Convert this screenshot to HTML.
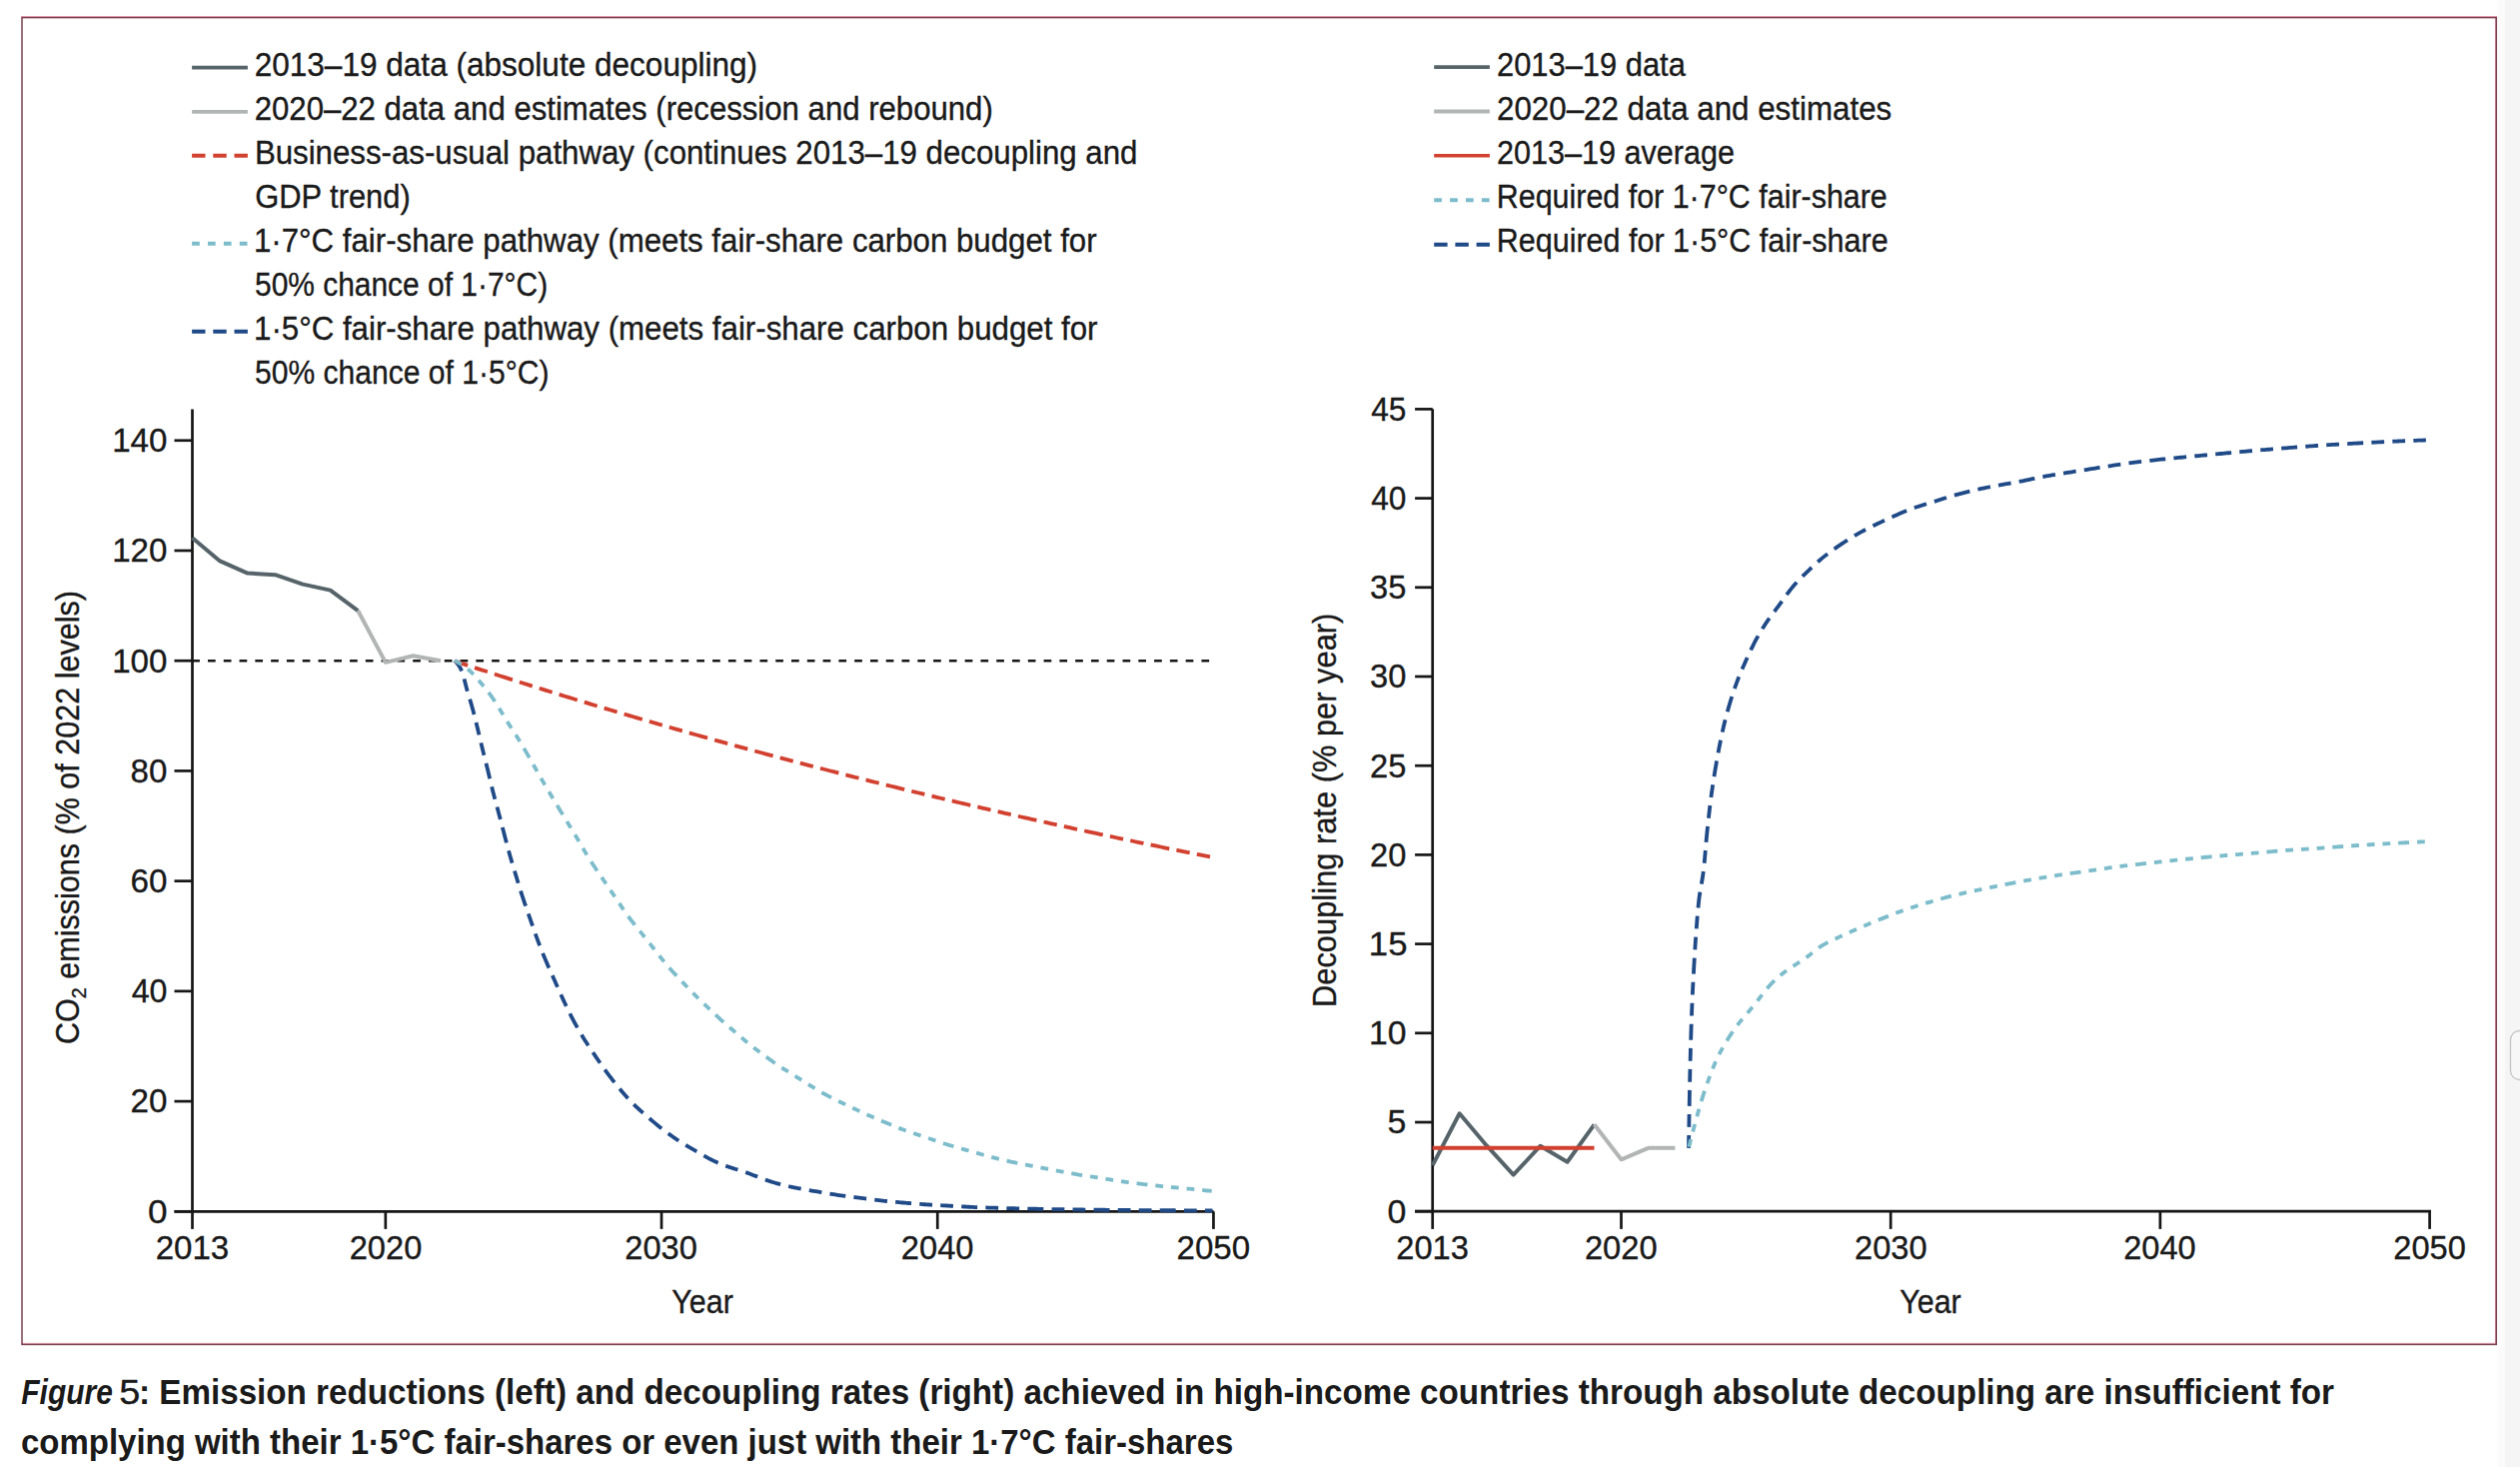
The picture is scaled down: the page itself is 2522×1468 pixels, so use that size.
<!DOCTYPE html><html><head><meta charset="utf-8"><style>html,body{margin:0;padding:0;background:#fff;width:2522px;height:1468px;overflow:hidden}svg{display:block}text{font-family:"Liberation Sans", sans-serif;fill:#1a1a1a}text.r{stroke:#1a1a1a;stroke-width:0.35px}</style></head><body>
<svg width="2522" height="1468" viewBox="0 0 2522 1468">
<rect x="2507" y="0" width="15" height="1468" fill="#f5f5f5"/>
<rect x="2500" y="0" width="7" height="1468" fill="#fbfbfb"/>
<rect x="2512.5" y="1031.5" width="20" height="49" rx="9" fill="#f7f7f7" stroke="#c4c4c4" stroke-width="1.3"/>
<path d="M21 16.5 H2499 M21 1344.3 H2499" stroke="#f2a6ba" stroke-width="1.1" fill="none"/>
<path d="M2497.4 17 V1345" stroke="#e7a3b3" stroke-width="1" fill="none"/>
<rect x="22" y="17.6" width="2476.3" height="1327.8" fill="none" stroke="#7a4150" stroke-width="1.5"/>
<line x1="192.1" y1="67.6" x2="247.9" y2="67.6" stroke="#56646a" stroke-width="3.8"/>
<line x1="192.1" y1="111.8" x2="247.9" y2="111.8" stroke="#b3b5b5" stroke-width="3.8"/>
<line x1="192.1" y1="155.7" x2="247.9" y2="155.7" stroke="#d2402f" stroke-width="3.9" stroke-dasharray="13.4 7.8"/>
<line x1="192.1" y1="243.7" x2="247.9" y2="243.7" stroke="#7dbccb" stroke-width="3.9" stroke-dasharray="7.7 8.2"/>
<line x1="192.1" y1="331.7" x2="247.9" y2="331.7" stroke="#1f4a87" stroke-width="3.9" stroke-dasharray="13.4 7.8"/>
<line x1="1435.2" y1="67.1" x2="1490.9" y2="67.1" stroke="#56646a" stroke-width="3.8"/>
<line x1="1435.2" y1="111.5" x2="1490.9" y2="111.5" stroke="#b3b5b5" stroke-width="3.8"/>
<line x1="1435.2" y1="155.8" x2="1490.9" y2="155.8" stroke="#d2402f" stroke-width="3.6"/>
<line x1="1435.2" y1="200.2" x2="1490.9" y2="200.2" stroke="#7dbccb" stroke-width="3.9" stroke-dasharray="7.7 8.2"/>
<line x1="1435.2" y1="244.7" x2="1490.9" y2="244.7" stroke="#1f4a87" stroke-width="3.9" stroke-dasharray="13.4 7.8"/>
<path d="M192.5 409.4 V1213.6 M174.5 1212.3 H1214.6" stroke="#161616" stroke-width="2.7" fill="none"/>
<line x1="174.5" y1="1212.3" x2="192.5" y2="1212.3" stroke="#161616" stroke-width="2.7"/>
<line x1="174.5" y1="1102.08" x2="192.5" y2="1102.08" stroke="#161616" stroke-width="2.7"/>
<line x1="174.5" y1="991.86" x2="192.5" y2="991.86" stroke="#161616" stroke-width="2.7"/>
<line x1="174.5" y1="881.64" x2="192.5" y2="881.64" stroke="#161616" stroke-width="2.7"/>
<line x1="174.5" y1="771.42" x2="192.5" y2="771.42" stroke="#161616" stroke-width="2.7"/>
<line x1="174.5" y1="661.2" x2="192.5" y2="661.2" stroke="#161616" stroke-width="2.7"/>
<line x1="174.5" y1="550.98" x2="192.5" y2="550.98" stroke="#161616" stroke-width="2.7"/>
<line x1="174.5" y1="440.76" x2="192.5" y2="440.76" stroke="#161616" stroke-width="2.7"/>
<line x1="192.5" y1="1212.3" x2="192.5" y2="1229.9" stroke="#161616" stroke-width="2.7"/>
<line x1="385.84" y1="1212.3" x2="385.84" y2="1229.9" stroke="#161616" stroke-width="2.7"/>
<line x1="662.04" y1="1212.3" x2="662.04" y2="1229.9" stroke="#161616" stroke-width="2.7"/>
<line x1="938.24" y1="1212.3" x2="938.24" y2="1229.9" stroke="#161616" stroke-width="2.7"/>
<line x1="1214.44" y1="1212.3" x2="1214.44" y2="1229.9" stroke="#161616" stroke-width="2.7"/>
<path d="M1433.7 409.2 V1213.6 M1416.1 1212.2 H2433" stroke="#161616" stroke-width="2.7" fill="none"/>
<line x1="1416.1" y1="1212.2" x2="1433.7" y2="1212.2" stroke="#161616" stroke-width="2.7"/>
<line x1="1416.1" y1="1123" x2="1433.7" y2="1123" stroke="#161616" stroke-width="2.7"/>
<line x1="1416.1" y1="1033.8" x2="1433.7" y2="1033.8" stroke="#161616" stroke-width="2.7"/>
<line x1="1416.1" y1="944.6" x2="1433.7" y2="944.6" stroke="#161616" stroke-width="2.7"/>
<line x1="1416.1" y1="855.4" x2="1433.7" y2="855.4" stroke="#161616" stroke-width="2.7"/>
<line x1="1416.1" y1="766.2" x2="1433.7" y2="766.2" stroke="#161616" stroke-width="2.7"/>
<line x1="1416.1" y1="677" x2="1433.7" y2="677" stroke="#161616" stroke-width="2.7"/>
<line x1="1416.1" y1="587.8" x2="1433.7" y2="587.8" stroke="#161616" stroke-width="2.7"/>
<line x1="1416.1" y1="498.6" x2="1433.7" y2="498.6" stroke="#161616" stroke-width="2.7"/>
<line x1="1416.1" y1="409.4" x2="1433.7" y2="409.4" stroke="#161616" stroke-width="2.7"/>
<line x1="1433.7" y1="1212.2" x2="1433.7" y2="1229.9" stroke="#161616" stroke-width="2.7"/>
<line x1="1622.49" y1="1212.2" x2="1622.49" y2="1229.9" stroke="#161616" stroke-width="2.7"/>
<line x1="1892.19" y1="1212.2" x2="1892.19" y2="1229.9" stroke="#161616" stroke-width="2.7"/>
<line x1="2161.89" y1="1212.2" x2="2161.89" y2="1229.9" stroke="#161616" stroke-width="2.7"/>
<line x1="2431.59" y1="1212.2" x2="2431.59" y2="1229.9" stroke="#161616" stroke-width="2.7"/>
<line x1="192.5" y1="661.2" x2="1211" y2="661.2" stroke="#161616" stroke-width="2.5" stroke-dasharray="7.7 8.085" stroke-dashoffset="0.3"/>
<path d="M192.5 538.3 L220.12 561.45 L247.74 573.58 L275.36 575.23 L302.98 584.6 L330.6 590.66 L358.22 611.05" stroke="#56646a" stroke-width="4" fill="none" stroke-linejoin="round"/>
<path d="M358.22 611.05 L385.84 662.85 L413.46 656.24 L441.08 661.2" stroke="#b3b5b5" stroke-width="4" fill="none" stroke-linejoin="round"/>
<path d="M455 661 L456.29 662.41 L457.54 663.86 L458.71 665.38 L459.79 666.97 L460.76 668.65 L461.62 670.4 L462.38 672.21 L463.06 674.07 L463.65 675.96 L464.19 677.87 L464.69 679.8 L465.17 681.74 L465.65 683.68 L466.13 685.62 L466.63 687.55 L467.16 689.48 L467.7 691.41 L468.26 693.33 L468.83 695.24 L469.41 697.16 L470 699.07 L470.58 700.99 L471.15 702.9 L471.71 704.82 L472.27 706.75 L472.8 708.67 L473.33 710.6 L473.85 712.54 L474.35 714.47 L474.85 716.41 L475.34 718.35 L475.83 720.29 L476.31 722.23 L476.79 724.17 L477.27 726.12 L477.74 728.06 L478.2 730.01 L478.67 731.95 L479.13 733.9 L479.59 735.85 L480.05 737.79 L480.5 739.74 L480.96 741.69 L481.43 743.64 L481.9 745.58 L482.37 747.53 L482.85 749.47 L483.33 751.41 L483.82 753.35 L484.31 755.29 L484.8 757.23 L485.3 759.17 L485.79 761.11 L486.28 763.05 L486.77 764.99 L487.25 766.93 L487.73 768.87 L488.2 770.81 L488.67 772.76 L489.13 774.71 L489.59 776.65 L490.05 778.6 L490.51 780.55 L490.97 782.5 L491.43 784.44 L491.9 786.39 L492.38 788.33 L492.87 790.27 L493.36 792.21 L493.86 794.15 L494.37 796.08 L494.89 798.01 L495.41 799.95 L495.93 801.88 L496.46 803.81 L496.98 805.74 L497.5 807.67 L498.02 809.6 L498.54 811.53 L499.06 813.47 L499.57 815.4 L500.08 817.33 L500.6 819.27 L501.11 821.2 L501.61 823.14 L502.12 825.07 L502.63 827.01 L503.13 828.95 L503.64 830.88 L504.14 832.82 L504.64 834.76 L505.14 836.69 L505.64 838.63 L506.14 840.57 L506.65 842.5 L507.16 844.44 L507.67 846.37 L508.19 848.31 L508.71 850.24 L509.25 852.16 L509.79 854.09 L510.34 856.01 L510.89 857.94 L511.46 859.85 L512.02 861.77 L512.6 863.69 L513.17 865.61 L513.75 867.52 L514.33 869.44 L514.91 871.35 L515.49 873.27 L516.07 875.18 L516.64 877.1 L517.22 879.01 L517.8 880.93 L518.39 882.84 L518.97 884.76 L519.56 886.67 L520.15 888.58 L520.75 890.49 L521.35 892.4 L521.96 894.3 L522.57 896.21 L523.2 898.11 L523.83 900.01 L524.46 901.9 L525.1 903.8 L525.75 905.69 L526.4 907.58 L527.06 909.48 L527.71 911.36 L528.37 913.25 L529.03 915.14 L529.69 917.03 L530.35 918.92 L531.01 920.81 L531.66 922.7 L532.32 924.59 L532.98 926.48 L533.64 928.37 L534.3 930.26 L534.96 932.15 L535.63 934.03 L536.3 935.92 L536.99 937.8 L537.68 939.67 L538.37 941.55 L539.08 943.42 L539.79 945.29 L540.51 947.16 L541.24 949.02 L541.97 950.88 L542.72 952.74 L543.47 954.59 L544.22 956.45 L544.99 958.29 L545.76 960.14 L546.55 961.98 L547.34 963.82 L548.13 965.65 L548.94 967.49 L549.75 969.31 L550.56 971.14 L551.38 972.97 L552.2 974.79 L553.02 976.62 L553.83 978.45 L554.65 980.27 L555.46 982.1 L556.27 983.93 L557.08 985.76 L557.89 987.59 L558.71 989.42 L559.52 991.25 L560.34 993.07 L561.16 994.9 L561.99 996.72 L562.82 998.54 L563.66 1000.35 L564.5 1002.17 L565.36 1003.98 L566.21 1005.78 L567.08 1007.59 L567.95 1009.39 L568.83 1011.19 L569.71 1012.98 L570.61 1014.77 L571.51 1016.55 L572.43 1018.33 L573.35 1020.11 L574.28 1021.88 L575.23 1023.64 L576.18 1025.4 L577.14 1027.15 L578.12 1028.9 L579.11 1030.64 L580.1 1032.37 L581.12 1034.1 L582.14 1035.82 L583.19 1037.52 L584.24 1039.22 L585.31 1040.91 L586.39 1042.6 L587.48 1044.27 L588.58 1045.94 L589.69 1047.61 L590.8 1049.27 L591.91 1050.94 L593.03 1052.6 L594.14 1054.26 L595.26 1055.92 L596.38 1057.58 L597.5 1059.23 L598.63 1060.89 L599.76 1062.54 L600.89 1064.19 L602.04 1065.83 L603.19 1067.46 L604.35 1069.09 L605.52 1070.71 L606.7 1072.33 L607.89 1073.94 L609.09 1075.54 L610.3 1077.13 L611.51 1078.72 L612.74 1080.3 L613.97 1081.88 L615.22 1083.45 L616.47 1085.01 L617.73 1086.56 L618.99 1088.11 L620.27 1089.65 L621.55 1091.18 L622.85 1092.71 L624.15 1094.23 L625.47 1095.74 L626.79 1097.23 L628.13 1098.72 L629.49 1100.18 L630.86 1101.64 L632.25 1103.08 L633.66 1104.5 L635.09 1105.9 L636.53 1107.29 L637.98 1108.66 L639.45 1110.01 L640.93 1111.36 L642.42 1112.69 L643.92 1114.02 L645.42 1115.34 L646.93 1116.65 L648.45 1117.96 L649.97 1119.26 L651.49 1120.55 L653.02 1121.84 L654.56 1123.13 L656.1 1124.4 L657.65 1125.66 L659.21 1126.92 L660.78 1128.16 L662.35 1129.39 L663.93 1130.62 L665.53 1131.83 L667.13 1133.03 L668.73 1134.22 L670.35 1135.4 L671.98 1136.56 L673.61 1137.71 L675.26 1138.85 L676.91 1139.97 L678.58 1141.08 L680.26 1142.17 L681.94 1143.24 L683.64 1144.3 L685.35 1145.35 L687.06 1146.38 L688.78 1147.4 L690.51 1148.41 L692.24 1149.41 L693.97 1150.42 L695.7 1151.42 L697.44 1152.41 L699.17 1153.41 L700.9 1154.41 L702.63 1155.41 L704.37 1156.41 L706.11 1157.39 L707.86 1158.36 L709.62 1159.31 L711.39 1160.24 L713.17 1161.14 L714.97 1162.01 L716.79 1162.84 L718.62 1163.64 L720.47 1164.4 L722.32 1165.13 L724.19 1165.84 L726.07 1166.52 L727.96 1167.18 L729.86 1167.83 L731.75 1168.46 L733.66 1169.07 L735.56 1169.69 L737.47 1170.3 L739.37 1170.91 L741.27 1171.52 L743.18 1172.15 L745.07 1172.78 L746.97 1173.42 L748.85 1174.08 L750.74 1174.76 L752.61 1175.45 L754.49 1176.16 L756.35 1176.87 L758.22 1177.59 L760.09 1178.31 L761.95 1179.03 L763.83 1179.73 L765.7 1180.42 L767.59 1181.09 L769.48 1181.74 L771.38 1182.36 L773.29 1182.95 L775.2 1183.53 L777.13 1184.08 L779.05 1184.61 L780.99 1185.13 L782.92 1185.63 L784.86 1186.11 L786.81 1186.58 L788.76 1187.04 L790.71 1187.48 L792.66 1187.9 L794.62 1188.31 L796.58 1188.71 L798.54 1189.09 L800.51 1189.46 L802.48 1189.82 L804.45 1190.17 L806.42 1190.51 L808.39 1190.85 L810.36 1191.18 L812.34 1191.51 L814.31 1191.83 L816.28 1192.16 L818.26 1192.49 L820.23 1192.83 L822.2 1193.16 L824.18 1193.5 L826.15 1193.84 L828.12 1194.17 L830.09 1194.51 L832.07 1194.83 L834.04 1195.16 L836.02 1195.47 L837.99 1195.78 L839.97 1196.07 L841.95 1196.36 L843.93 1196.64 L845.92 1196.91 L847.9 1197.17 L849.88 1197.43 L851.87 1197.68 L853.85 1197.93 L855.84 1198.17 L857.83 1198.41 L859.81 1198.66 L861.8 1198.9 L863.78 1199.15 L865.77 1199.39 L867.75 1199.64 L869.74 1199.89 L871.72 1200.14 L873.71 1200.39 L875.7 1200.64 L877.68 1200.88 L879.67 1201.12 L881.65 1201.35 L883.64 1201.58 L885.63 1201.8 L887.62 1202.01 L889.61 1202.22 L891.6 1202.42 L893.59 1202.61 L895.58 1202.8 L897.58 1202.98 L899.57 1203.15 L901.56 1203.33 L903.56 1203.5 L905.55 1203.67 L907.54 1203.83 L909.54 1204 L911.53 1204.16 L913.53 1204.32 L915.52 1204.48 L917.52 1204.64 L919.51 1204.79 L921.51 1204.94 L923.5 1205.09 L925.5 1205.23 L927.49 1205.37 L929.49 1205.51 L931.49 1205.64 L933.48 1205.76 L935.48 1205.88 L937.48 1205.99 L939.48 1206.1 L941.47 1206.21 L943.47 1206.32 L945.47 1206.42 L947.47 1206.52 L949.47 1206.63 L951.46 1206.73 L953.46 1206.84 L955.46 1206.95 L957.46 1207.06 L959.45 1207.18 L961.45 1207.29 L963.45 1207.41 L965.45 1207.52 L967.44 1207.64 L969.44 1207.74 L971.44 1207.85 L973.44 1207.94 L975.44 1208.03 L977.44 1208.12 L979.44 1208.2 L981.43 1208.27 L983.43 1208.34 L985.43 1208.41 L987.43 1208.47 L989.43 1208.53 L991.43 1208.59 L993.43 1208.65 L995.43 1208.7 L997.43 1208.76 L999.43 1208.82 L1001.43 1208.87 L1003.43 1208.92 L1005.43 1208.98 L1007.43 1209.03 L1009.43 1209.09 L1011.43 1209.14 L1013.43 1209.19 L1015.43 1209.24 L1017.44 1209.29 L1019.44 1209.34 L1021.44 1209.39 L1023.44 1209.44 L1025.44 1209.49 L1027.44 1209.54 L1029.44 1209.58 L1031.44 1209.63 L1033.44 1209.67 L1035.44 1209.71 L1037.44 1209.76 L1039.44 1209.8 L1041.44 1209.84 L1043.44 1209.88 L1045.44 1209.91 L1047.44 1209.95 L1049.44 1209.99 L1051.44 1210.02 L1053.44 1210.06 L1055.44 1210.09 L1057.44 1210.12 L1059.44 1210.15 L1061.44 1210.19 L1063.44 1210.22 L1065.44 1210.25 L1067.45 1210.28 L1069.45 1210.31 L1071.45 1210.34 L1073.45 1210.37 L1075.45 1210.4 L1077.45 1210.43 L1079.45 1210.45 L1081.45 1210.48 L1083.45 1210.51 L1085.45 1210.53 L1087.45 1210.56 L1089.45 1210.58 L1091.45 1210.61 L1093.45 1210.63 L1095.45 1210.66 L1097.46 1210.68 L1099.46 1210.7 L1101.46 1210.72 L1103.46 1210.75 L1105.46 1210.77 L1107.46 1210.79 L1109.46 1210.81 L1111.46 1210.82 L1113.46 1210.84 L1115.46 1210.86 L1117.46 1210.88 L1119.46 1210.89 L1121.46 1210.91 L1123.46 1210.93 L1125.47 1210.94 L1127.47 1210.96 L1129.47 1210.97 L1131.47 1210.99 L1133.47 1211 L1135.47 1211.02 L1137.47 1211.03 L1139.47 1211.05 L1141.47 1211.06 L1143.47 1211.07 L1145.47 1211.09 L1147.47 1211.1 L1149.47 1211.12 L1151.48 1211.13 L1153.48 1211.14 L1155.48 1211.16 L1157.48 1211.17 L1159.48 1211.18 L1161.48 1211.19 L1163.48 1211.21 L1165.48 1211.22 L1167.48 1211.23 L1169.48 1211.24 L1171.48 1211.25 L1173.48 1211.26 L1175.48 1211.27 L1177.49 1211.28 L1179.49 1211.29 L1181.49 1211.3 L1183.49 1211.31 L1185.49 1211.32 L1187.49 1211.33 L1189.49 1211.34 L1191.49 1211.35 L1193.49 1211.35 L1195.49 1211.36 L1197.49 1211.36 L1199.49 1211.37 L1201.5 1211.38 L1203.5 1211.38 L1205.5 1211.39 L1207.5 1211.39 L1209.5 1211.39 L1211.5 1211.4 L1213.5 1211.4" stroke="#1f4a87" stroke-width="3.8" fill="none" stroke-linejoin="round" stroke-dasharray="12.8 8.2 12.8 8.2 16 8.2"/>
<path d="M455.3 661.6 L459.1 662.85 L462.89 664.11 L466.69 665.35 L470.49 666.6 L474.29 667.84 L478.08 669.08 L481.88 670.32 L485.68 671.55 L489.48 672.78 L493.27 674.01 L497.07 675.23 L500.87 676.45 L504.67 677.67 L508.46 678.88 L512.26 680.09 L516.06 681.3 L519.86 682.51 L523.65 683.71 L527.45 684.91 L531.25 686.1 L535.05 687.3 L538.84 688.49 L542.64 689.67 L546.44 690.86 L550.24 692.04 L554.03 693.21 L557.83 694.39 L561.63 695.56 L565.43 696.73 L569.22 697.89 L573.02 699.05 L576.82 700.21 L580.62 701.37 L584.41 702.52 L588.21 703.67 L592.01 704.82 L595.81 705.97 L599.6 707.11 L603.4 708.25 L607.2 709.38 L611 710.52 L614.79 711.65 L618.59 712.77 L622.39 713.9 L626.19 715.02 L629.98 716.14 L633.78 717.25 L637.58 718.36 L641.38 719.47 L645.17 720.58 L648.97 721.69 L652.77 722.79 L656.57 723.89 L660.36 724.98 L664.16 726.07 L667.96 727.16 L671.76 728.25 L675.55 729.34 L679.35 730.42 L683.15 731.5 L686.95 732.57 L690.74 733.65 L694.54 734.72 L698.34 735.79 L702.14 736.85 L705.93 737.91 L709.73 738.97 L713.53 740.03 L717.33 741.08 L721.12 742.14 L724.92 743.18 L728.72 744.23 L732.52 745.27 L736.31 746.32 L740.11 747.35 L743.91 748.39 L747.71 749.42 L751.5 750.45 L755.3 751.48 L759.1 752.5 L762.9 753.53 L766.69 754.55 L770.49 755.56 L774.29 756.58 L778.09 757.59 L781.88 758.6 L785.68 759.61 L789.48 760.61 L793.28 761.61 L797.07 762.61 L800.87 763.61 L804.67 764.6 L808.47 765.59 L812.26 766.58 L816.06 767.57 L819.86 768.55 L823.66 769.53 L827.45 770.51 L831.25 771.49 L835.05 772.46 L838.85 773.43 L842.64 774.4 L846.44 775.37 L850.24 776.33 L854.04 777.29 L857.83 778.25 L861.63 779.21 L865.43 780.16 L869.23 781.11 L873.02 782.06 L876.82 783.01 L880.62 783.95 L884.42 784.89 L888.21 785.83 L892.01 786.77 L895.81 787.7 L899.61 788.64 L903.4 789.57 L907.2 790.49 L911 791.42 L914.8 792.34 L918.59 793.26 L922.39 794.18 L926.19 795.09 L929.99 796.01 L933.78 796.92 L937.58 797.83 L941.38 798.73 L945.18 799.64 L948.97 800.54 L952.77 801.44 L956.57 802.33 L960.37 803.23 L964.16 804.12 L967.96 805.01 L971.76 805.9 L975.56 806.78 L979.35 807.67 L983.15 808.55 L986.95 809.43 L990.75 810.3 L994.54 811.18 L998.34 812.05 L1002.14 812.92 L1005.94 813.79 L1009.73 814.65 L1013.53 815.52 L1017.33 816.38 L1021.13 817.23 L1024.92 818.09 L1028.72 818.95 L1032.52 819.8 L1036.32 820.65 L1040.11 821.5 L1043.91 822.34 L1047.71 823.18 L1051.51 824.02 L1055.3 824.86 L1059.1 825.7 L1062.9 826.54 L1066.7 827.37 L1070.49 828.2 L1074.29 829.03 L1078.09 829.85 L1081.89 830.68 L1085.68 831.5 L1089.48 832.32 L1093.28 833.14 L1097.08 833.95 L1100.87 834.77 L1104.67 835.58 L1108.47 836.39 L1112.27 837.19 L1116.06 838 L1119.86 838.8 L1123.66 839.6 L1127.46 840.4 L1131.25 841.2 L1135.05 841.99 L1138.85 842.79 L1142.65 843.58 L1146.44 844.37 L1150.24 845.15 L1154.04 845.94 L1157.84 846.72 L1161.63 847.5 L1165.43 848.28 L1169.23 849.06 L1173.03 849.83 L1176.82 850.61 L1180.62 851.38 L1184.42 852.15 L1188.22 852.91 L1192.01 853.68 L1195.81 854.44 L1199.61 855.2 L1203.41 855.96 L1207.2 856.72 L1211 857.47" stroke="#d2402f" stroke-width="3.8" fill="none" stroke-linejoin="round" stroke-dasharray="13.5 7.3 13.5 7.3 19 7.3"/>
<path d="M455 661 L456.76 661.94 L458.5 662.9 L460.22 663.9 L461.91 664.95 L463.56 666.06 L465.18 667.22 L466.76 668.44 L468.3 669.7 L469.81 671 L471.28 672.35 L472.72 673.73 L474.12 675.15 L475.48 676.61 L476.81 678.1 L478.12 679.61 L479.41 681.14 L480.69 682.67 L481.96 684.22 L483.24 685.76 L484.5 687.31 L485.76 688.86 L487.01 690.43 L488.24 692 L489.45 693.59 L490.64 695.2 L491.81 696.83 L492.95 698.47 L494.07 700.13 L495.17 701.8 L496.25 703.48 L497.32 705.17 L498.38 706.87 L499.44 708.57 L500.48 710.28 L501.52 711.99 L502.55 713.71 L503.58 715.42 L504.62 717.13 L505.66 718.84 L506.71 720.55 L507.76 722.25 L508.83 723.94 L509.91 725.63 L510.99 727.31 L512.08 728.99 L513.17 730.67 L514.26 732.35 L515.34 734.03 L516.41 735.72 L517.48 737.42 L518.53 739.12 L519.58 740.83 L520.61 742.54 L521.64 744.25 L522.67 745.98 L523.69 747.7 L524.7 749.43 L525.71 751.16 L526.71 752.89 L527.71 754.62 L528.71 756.36 L529.7 758.09 L530.69 759.83 L531.68 761.57 L532.67 763.31 L533.66 765.05 L534.65 766.79 L535.64 768.54 L536.63 770.28 L537.61 772.02 L538.6 773.76 L539.6 775.5 L540.59 777.23 L541.59 778.97 L542.58 780.71 L543.59 782.44 L544.59 784.17 L545.6 785.9 L546.61 787.62 L547.63 789.35 L548.65 791.07 L549.67 792.79 L550.7 794.51 L551.73 796.23 L552.76 797.94 L553.79 799.66 L554.83 801.37 L555.86 803.09 L556.9 804.8 L557.94 806.51 L558.97 808.22 L560.01 809.93 L561.05 811.64 L562.09 813.36 L563.13 815.07 L564.17 816.78 L565.21 818.49 L566.25 820.2 L567.29 821.91 L568.33 823.62 L569.37 825.33 L570.41 827.04 L571.45 828.75 L572.49 830.46 L573.53 832.17 L574.57 833.88 L575.61 835.59 L576.65 837.3 L577.68 839.02 L578.7 840.74 L579.72 842.46 L580.74 844.19 L581.75 845.92 L582.75 847.65 L583.75 849.38 L584.75 851.11 L585.76 852.84 L586.78 854.57 L587.8 856.28 L588.85 857.99 L589.91 859.69 L590.98 861.38 L592.07 863.06 L593.17 864.73 L594.29 866.39 L595.41 868.05 L596.53 869.7 L597.66 871.36 L598.79 873.01 L599.92 874.66 L601.05 876.32 L602.17 877.97 L603.3 879.63 L604.42 881.29 L605.54 882.94 L606.67 884.6 L607.79 886.25 L608.92 887.91 L610.05 889.56 L611.17 891.22 L612.3 892.87 L613.43 894.53 L614.55 896.18 L615.67 897.84 L616.79 899.5 L617.91 901.16 L619.02 902.83 L620.13 904.49 L621.24 906.16 L622.36 907.82 L623.48 909.48 L624.61 911.13 L625.75 912.77 L626.91 914.4 L628.08 916.03 L629.26 917.64 L630.46 919.24 L631.67 920.84 L632.89 922.42 L634.12 924 L635.36 925.58 L636.61 927.14 L637.86 928.7 L639.11 930.26 L640.37 931.82 L641.64 933.37 L642.9 934.92 L644.16 936.48 L645.42 938.04 L646.67 939.6 L647.91 941.17 L649.16 942.73 L650.4 944.31 L651.63 945.88 L652.87 947.46 L654.1 949.03 L655.33 950.61 L656.57 952.19 L657.8 953.76 L659.04 955.34 L660.27 956.91 L661.51 958.48 L662.76 960.05 L664.01 961.61 L665.27 963.16 L666.55 964.71 L667.84 966.24 L669.14 967.75 L670.46 969.26 L671.8 970.75 L673.15 972.22 L674.51 973.69 L675.88 975.15 L677.25 976.61 L678.63 978.06 L680 979.52 L681.38 980.97 L682.75 982.43 L684.12 983.89 L685.49 985.35 L686.87 986.8 L688.24 988.25 L689.62 989.7 L691.01 991.14 L692.41 992.58 L693.81 994.01 L695.21 995.44 L696.63 996.85 L698.05 998.26 L699.47 999.67 L700.9 1001.07 L702.34 1002.46 L703.79 1003.85 L705.23 1005.23 L706.69 1006.61 L708.14 1007.98 L709.6 1009.35 L711.06 1010.72 L712.52 1012.09 L713.98 1013.46 L715.44 1014.83 L716.89 1016.2 L718.36 1017.57 L719.82 1018.94 L721.29 1020.29 L722.77 1021.64 L724.26 1022.98 L725.76 1024.31 L727.26 1025.63 L728.78 1026.93 L730.3 1028.23 L731.83 1029.52 L733.36 1030.81 L734.89 1032.1 L736.42 1033.39 L737.95 1034.69 L739.47 1035.99 L740.98 1037.3 L742.49 1038.61 L744 1039.93 L745.52 1041.24 L747.04 1042.53 L748.57 1043.82 L750.12 1045.09 L751.68 1046.33 L753.26 1047.56 L754.86 1048.77 L756.46 1049.96 L758.08 1051.14 L759.7 1052.31 L761.33 1053.48 L762.95 1054.66 L764.56 1055.84 L766.17 1057.02 L767.78 1058.21 L769.39 1059.41 L771 1060.6 L772.61 1061.78 L774.24 1062.95 L775.87 1064.1 L777.52 1065.23 L779.18 1066.34 L780.86 1067.44 L782.54 1068.52 L784.23 1069.59 L785.93 1070.65 L787.63 1071.7 L789.33 1072.76 L791.03 1073.82 L792.73 1074.88 L794.43 1075.94 L796.12 1077.01 L797.81 1078.08 L799.5 1079.16 L801.19 1080.23 L802.88 1081.31 L804.57 1082.38 L806.26 1083.45 L807.95 1084.51 L809.65 1085.57 L811.35 1086.63 L813.06 1087.68 L814.76 1088.72 L816.48 1089.76 L818.2 1090.78 L819.92 1091.79 L821.66 1092.79 L823.4 1093.78 L825.15 1094.75 L826.91 1095.7 L828.67 1096.64 L830.45 1097.57 L832.23 1098.49 L834.01 1099.4 L835.8 1100.29 L837.59 1101.18 L839.39 1102.05 L841.2 1102.92 L843.01 1103.78 L844.81 1104.64 L846.62 1105.49 L848.44 1106.35 L850.25 1107.2 L852.06 1108.06 L853.87 1108.91 L855.68 1109.77 L857.49 1110.62 L859.3 1111.47 L861.11 1112.32 L862.93 1113.17 L864.74 1114.01 L866.56 1114.84 L868.39 1115.67 L870.21 1116.49 L872.04 1117.3 L873.87 1118.11 L875.71 1118.91 L877.55 1119.7 L879.39 1120.48 L881.23 1121.26 L883.08 1122.03 L884.93 1122.79 L886.78 1123.56 L888.63 1124.32 L890.48 1125.08 L892.33 1125.84 L894.18 1126.61 L896.03 1127.37 L897.89 1128.13 L899.74 1128.88 L901.6 1129.62 L903.47 1130.34 L905.34 1131.04 L907.22 1131.72 L909.11 1132.38 L911.01 1133.01 L912.91 1133.64 L914.81 1134.25 L916.72 1134.86 L918.63 1135.47 L920.53 1136.09 L922.43 1136.71 L924.33 1137.35 L926.23 1137.99 L928.12 1138.64 L930.01 1139.29 L931.9 1139.96 L933.79 1140.62 L935.68 1141.28 L937.57 1141.93 L939.47 1142.58 L941.36 1143.21 L943.27 1143.84 L945.17 1144.45 L947.08 1145.05 L948.99 1145.64 L950.91 1146.21 L952.83 1146.78 L954.75 1147.34 L956.68 1147.89 L958.6 1148.44 L960.53 1148.99 L962.45 1149.53 L964.38 1150.07 L966.31 1150.61 L968.24 1151.15 L970.16 1151.69 L972.09 1152.23 L974.02 1152.78 L975.94 1153.32 L977.87 1153.87 L979.79 1154.42 L981.72 1154.97 L983.64 1155.52 L985.57 1156.07 L987.49 1156.61 L989.42 1157.15 L991.35 1157.68 L993.29 1158.19 L995.22 1158.7 L997.16 1159.19 L999.11 1159.67 L1001.05 1160.14 L1003 1160.6 L1004.95 1161.05 L1006.9 1161.49 L1008.86 1161.92 L1010.81 1162.35 L1012.77 1162.77 L1014.73 1163.18 L1016.69 1163.59 L1018.65 1163.98 L1020.62 1164.38 L1022.58 1164.76 L1024.54 1165.15 L1026.51 1165.53 L1028.47 1165.91 L1030.44 1166.28 L1032.41 1166.65 L1034.37 1167.03 L1036.34 1167.4 L1038.31 1167.77 L1040.28 1168.14 L1042.24 1168.52 L1044.21 1168.89 L1046.17 1169.27 L1048.14 1169.65 L1050.11 1170.03 L1052.07 1170.41 L1054.04 1170.79 L1056 1171.17 L1057.97 1171.55 L1059.93 1171.93 L1061.9 1172.3 L1063.87 1172.67 L1065.83 1173.04 L1067.8 1173.41 L1069.77 1173.78 L1071.74 1174.14 L1073.71 1174.49 L1075.68 1174.84 L1077.65 1175.18 L1079.63 1175.51 L1081.6 1175.83 L1083.58 1176.14 L1085.56 1176.45 L1087.54 1176.75 L1089.52 1177.05 L1091.5 1177.34 L1093.48 1177.64 L1095.45 1177.94 L1097.43 1178.25 L1099.41 1178.56 L1101.39 1178.87 L1103.36 1179.19 L1105.34 1179.5 L1107.32 1179.82 L1109.29 1180.14 L1111.27 1180.45 L1113.25 1180.76 L1115.23 1181.07 L1117.21 1181.37 L1119.18 1181.67 L1121.16 1181.97 L1123.15 1182.25 L1125.13 1182.54 L1127.11 1182.81 L1129.09 1183.08 L1131.08 1183.35 L1133.06 1183.6 L1135.05 1183.85 L1137.04 1184.1 L1139.02 1184.34 L1141.01 1184.57 L1143 1184.81 L1144.99 1185.04 L1146.98 1185.27 L1148.96 1185.5 L1150.95 1185.72 L1152.94 1185.95 L1154.93 1186.17 L1156.92 1186.4 L1158.91 1186.62 L1160.9 1186.83 L1162.89 1187.04 L1164.88 1187.25 L1166.87 1187.45 L1168.87 1187.65 L1170.86 1187.85 L1172.85 1188.04 L1174.84 1188.24 L1176.84 1188.42 L1178.83 1188.61 L1180.82 1188.8 L1182.81 1188.99 L1184.81 1189.17 L1186.8 1189.36 L1188.79 1189.54 L1190.79 1189.73 L1192.78 1189.91 L1194.77 1190.1 L1196.77 1190.29 L1198.76 1190.49 L1200.75 1190.68 L1202.74 1190.88 L1204.73 1191.08 L1206.73 1191.28 L1208.72 1191.49 L1210.71 1191.69 L1212.7 1191.9" stroke="#7dbccb" stroke-width="3.8" fill="none" stroke-linejoin="round" stroke-dasharray="7.8 7.9 7.8 7.9 7.8 7.9 11 7.9"/>
<path d="M1433.7 1166.17 L1460.67 1114.26 L1487.64 1146.19 L1514.61 1175.63 L1541.58 1146.73 L1568.55 1162.78 L1595.52 1125.32" stroke="#56646a" stroke-width="4" fill="none" stroke-linejoin="round"/>
<path d="M1595.52 1125.32 L1622.49 1160.29 L1649.46 1148.87 L1676.43 1148.87" stroke="#b3b5b5" stroke-width="4" fill="none" stroke-linejoin="round"/>
<line x1="1433.7" y1="1148.87" x2="1595.52" y2="1148.87" stroke="#d2402f" stroke-width="4"/>
<path d="M1690 1148.87 L1690.03 1146.87 L1690.06 1144.87 L1690.09 1142.87 L1690.12 1140.87 L1690.15 1138.87 L1690.18 1136.87 L1690.22 1134.87 L1690.25 1132.87 L1690.28 1130.87 L1690.31 1128.87 L1690.34 1126.87 L1690.38 1124.87 L1690.41 1122.86 L1690.44 1120.86 L1690.48 1118.86 L1690.51 1116.86 L1690.54 1114.86 L1690.58 1112.86 L1690.61 1110.86 L1690.65 1108.86 L1690.68 1106.86 L1690.72 1104.86 L1690.76 1102.86 L1690.79 1100.86 L1690.83 1098.86 L1690.87 1096.86 L1690.91 1094.86 L1690.95 1092.86 L1690.98 1090.86 L1691.02 1088.86 L1691.07 1086.86 L1691.11 1084.86 L1691.15 1082.86 L1691.19 1080.86 L1691.23 1078.86 L1691.28 1076.86 L1691.32 1074.86 L1691.37 1072.86 L1691.41 1070.86 L1691.46 1068.86 L1691.51 1066.86 L1691.56 1064.86 L1691.6 1062.86 L1691.65 1060.86 L1691.7 1058.86 L1691.75 1056.86 L1691.81 1054.86 L1691.86 1052.86 L1691.91 1050.86 L1691.97 1048.86 L1692.02 1046.86 L1692.08 1044.86 L1692.14 1042.86 L1692.2 1040.86 L1692.25 1038.86 L1692.31 1036.87 L1692.38 1034.87 L1692.44 1032.87 L1692.5 1030.87 L1692.56 1028.87 L1692.63 1026.87 L1692.7 1024.87 L1692.76 1022.87 L1692.83 1020.87 L1692.9 1018.87 L1692.97 1016.87 L1693.04 1014.87 L1693.12 1012.87 L1693.19 1010.87 L1693.27 1008.87 L1693.35 1006.88 L1693.43 1004.88 L1693.51 1002.88 L1693.6 1000.88 L1693.68 998.88 L1693.77 996.88 L1693.86 994.88 L1693.96 992.89 L1694.05 990.89 L1694.15 988.89 L1694.25 986.89 L1694.35 984.89 L1694.45 982.9 L1694.55 980.9 L1694.66 978.9 L1694.77 976.9 L1694.88 974.9 L1694.99 972.91 L1695.1 970.91 L1695.21 968.91 L1695.32 966.92 L1695.44 964.92 L1695.56 962.92 L1695.67 960.92 L1695.79 958.93 L1695.91 956.93 L1696.03 954.93 L1696.15 952.94 L1696.27 950.94 L1696.4 948.94 L1696.53 946.95 L1696.65 944.95 L1696.79 942.95 L1696.92 940.96 L1697.06 938.96 L1697.2 936.97 L1697.34 934.97 L1697.48 932.98 L1697.63 930.98 L1697.78 928.99 L1697.93 926.99 L1698.09 925 L1698.24 923 L1698.4 921.01 L1698.56 919.01 L1698.73 917.02 L1698.89 915.03 L1699.07 913.03 L1699.24 911.04 L1699.42 909.05 L1699.61 907.06 L1699.81 905.07 L1700.02 903.08 L1700.24 901.09 L1700.48 899.11 L1700.74 897.12 L1701.01 895.14 L1701.31 893.16 L1701.62 891.19 L1701.96 889.22 L1702.3 887.25 L1702.66 885.28 L1703.01 883.31 L1703.36 881.34 L1703.69 879.37 L1704.01 877.4 L1704.3 875.42 L1704.58 873.44 L1704.83 871.46 L1705.07 869.47 L1705.29 867.48 L1705.49 865.49 L1705.69 863.5 L1705.87 861.51 L1706.05 859.52 L1706.23 857.53 L1706.4 855.53 L1706.57 853.54 L1706.74 851.55 L1706.91 849.55 L1707.07 847.56 L1707.25 845.57 L1707.42 843.57 L1707.59 841.58 L1707.77 839.59 L1707.96 837.6 L1708.15 835.6 L1708.34 833.61 L1708.54 831.62 L1708.74 829.63 L1708.95 827.64 L1709.16 825.65 L1709.37 823.66 L1709.59 821.68 L1709.8 819.69 L1710.03 817.7 L1710.25 815.71 L1710.48 813.72 L1710.71 811.74 L1710.94 809.75 L1711.18 807.76 L1711.42 805.78 L1711.66 803.79 L1711.92 801.81 L1712.17 799.82 L1712.43 797.84 L1712.69 795.86 L1712.96 793.87 L1713.24 791.89 L1713.52 789.91 L1713.8 787.93 L1714.09 785.95 L1714.39 783.97 L1714.69 782 L1714.99 780.02 L1715.3 778.04 L1715.61 776.07 L1715.93 774.09 L1716.26 772.12 L1716.58 770.14 L1716.92 768.17 L1717.25 766.2 L1717.59 764.23 L1717.94 762.26 L1718.28 760.29 L1718.64 758.32 L1718.99 756.35 L1719.35 754.38 L1719.72 752.42 L1720.08 750.45 L1720.46 748.48 L1720.84 746.52 L1721.22 744.56 L1721.61 742.59 L1722 740.63 L1722.41 738.67 L1722.82 736.72 L1723.23 734.76 L1723.66 732.81 L1724.1 730.85 L1724.54 728.9 L1725 726.96 L1725.46 725.01 L1725.94 723.07 L1726.42 721.13 L1726.91 719.19 L1727.41 717.25 L1727.92 715.32 L1728.45 713.39 L1728.98 711.46 L1729.52 709.53 L1730.07 707.61 L1730.62 705.69 L1731.19 703.77 L1731.77 701.85 L1732.36 699.94 L1732.96 698.03 L1733.57 696.13 L1734.19 694.23 L1734.82 692.33 L1735.46 690.44 L1736.12 688.55 L1736.78 686.66 L1737.46 684.78 L1738.16 682.9 L1738.86 681.03 L1739.58 679.16 L1740.31 677.3 L1741.06 675.45 L1741.82 673.6 L1742.6 671.75 L1743.38 669.92 L1744.18 668.08 L1744.99 666.25 L1745.8 664.42 L1746.62 662.6 L1747.44 660.77 L1748.26 658.95 L1749.09 657.13 L1749.93 655.31 L1750.77 653.5 L1751.62 651.69 L1752.48 649.88 L1753.35 648.08 L1754.24 646.29 L1755.14 644.51 L1756.06 642.73 L1757 640.96 L1757.95 639.2 L1758.92 637.45 L1759.9 635.71 L1760.9 633.98 L1761.91 632.26 L1762.94 630.54 L1763.98 628.84 L1765.05 627.14 L1766.13 625.46 L1767.23 623.79 L1768.35 622.13 L1769.48 620.49 L1770.64 618.86 L1771.81 617.24 L1772.99 615.62 L1774.19 614.02 L1775.39 612.42 L1776.59 610.82 L1777.79 609.22 L1778.99 607.62 L1780.18 606.01 L1781.36 604.4 L1782.54 602.78 L1783.71 601.16 L1784.88 599.54 L1786.04 597.91 L1787.21 596.29 L1788.39 594.68 L1789.59 593.07 L1790.8 591.48 L1792.03 589.9 L1793.28 588.35 L1794.55 586.81 L1795.86 585.29 L1797.18 583.8 L1798.53 582.33 L1799.9 580.87 L1801.29 579.43 L1802.69 578 L1804.1 576.59 L1805.53 575.18 L1806.96 573.79 L1808.39 572.39 L1809.84 571.01 L1811.28 569.63 L1812.74 568.25 L1814.19 566.88 L1815.66 565.52 L1817.14 564.17 L1818.62 562.83 L1820.12 561.51 L1821.63 560.2 L1823.16 558.91 L1824.7 557.64 L1826.26 556.38 L1827.83 555.14 L1829.41 553.92 L1831.01 552.72 L1832.62 551.54 L1834.24 550.37 L1835.87 549.21 L1837.51 548.07 L1839.16 546.93 L1840.82 545.81 L1842.48 544.7 L1844.15 543.59 L1845.82 542.5 L1847.5 541.41 L1849.18 540.33 L1850.88 539.27 L1852.57 538.21 L1854.28 537.17 L1855.99 536.13 L1857.72 535.12 L1859.45 534.12 L1861.19 533.13 L1862.94 532.17 L1864.7 531.22 L1866.46 530.28 L1868.24 529.36 L1870.02 528.45 L1871.81 527.56 L1873.61 526.68 L1875.41 525.8 L1877.21 524.94 L1879.02 524.09 L1880.83 523.24 L1882.64 522.39 L1884.46 521.55 L1886.27 520.71 L1888.09 519.87 L1889.91 519.04 L1891.73 518.2 L1893.55 517.37 L1895.37 516.54 L1897.19 515.72 L1899.02 514.9 L1900.85 514.1 L1902.68 513.3 L1904.52 512.52 L1906.37 511.75 L1908.22 511 L1910.08 510.27 L1911.95 509.56 L1913.83 508.88 L1915.72 508.21 L1917.61 507.56 L1919.51 506.94 L1921.41 506.32 L1923.32 505.72 L1925.23 505.13 L1927.14 504.54 L1929.05 503.96 L1930.97 503.37 L1932.88 502.78 L1934.79 502.19 L1936.7 501.59 L1938.6 500.99 L1940.51 500.38 L1942.42 499.77 L1944.32 499.17 L1946.23 498.56 L1948.14 497.96 L1950.05 497.37 L1951.96 496.79 L1953.88 496.22 L1955.8 495.66 L1957.73 495.12 L1959.65 494.58 L1961.58 494.06 L1963.52 493.55 L1965.45 493.05 L1967.39 492.56 L1969.34 492.08 L1971.28 491.61 L1973.22 491.14 L1975.17 490.69 L1977.12 490.25 L1979.08 489.81 L1981.03 489.38 L1982.99 488.96 L1984.94 488.56 L1986.9 488.15 L1988.87 487.76 L1990.83 487.38 L1992.79 487 L1994.76 486.62 L1996.72 486.25 L1998.69 485.88 L2000.66 485.52 L2002.62 485.16 L2004.59 484.81 L2006.56 484.46 L2008.53 484.11 L2010.5 483.76 L2012.47 483.42 L2014.44 483.07 L2016.41 482.72 L2018.38 482.37 L2020.35 482.01 L2022.32 481.64 L2024.28 481.26 L2026.24 480.86 L2028.2 480.46 L2030.16 480.05 L2032.11 479.64 L2034.07 479.22 L2036.03 478.8 L2037.98 478.39 L2039.94 477.98 L2041.9 477.59 L2043.87 477.2 L2045.83 476.83 L2047.8 476.47 L2049.77 476.12 L2051.74 475.77 L2053.71 475.44 L2055.68 475.11 L2057.66 474.78 L2059.63 474.46 L2061.61 474.14 L2063.58 473.83 L2065.56 473.52 L2067.53 473.21 L2069.51 472.9 L2071.49 472.59 L2073.46 472.28 L2075.44 471.97 L2077.42 471.66 L2079.39 471.35 L2081.37 471.03 L2083.34 470.72 L2085.32 470.4 L2087.29 470.09 L2089.27 469.77 L2091.25 469.46 L2093.22 469.14 L2095.2 468.82 L2097.17 468.51 L2099.15 468.19 L2101.12 467.88 L2103.1 467.57 L2105.08 467.26 L2107.05 466.95 L2109.03 466.64 L2111.01 466.33 L2112.98 466.03 L2114.96 465.73 L2116.94 465.43 L2118.92 465.14 L2120.9 464.85 L2122.88 464.56 L2124.86 464.28 L2126.84 464 L2128.82 463.72 L2130.8 463.45 L2132.78 463.19 L2134.77 462.92 L2136.75 462.67 L2138.74 462.42 L2140.72 462.17 L2142.71 461.93 L2144.69 461.69 L2146.68 461.46 L2148.67 461.23 L2150.65 461 L2152.64 460.78 L2154.63 460.56 L2156.62 460.34 L2158.61 460.13 L2160.6 459.92 L2162.59 459.71 L2164.58 459.51 L2166.57 459.31 L2168.56 459.1 L2170.55 458.91 L2172.54 458.71 L2174.53 458.51 L2176.52 458.32 L2178.51 458.13 L2180.5 457.94 L2182.5 457.75 L2184.49 457.56 L2186.48 457.37 L2188.47 457.18 L2190.46 456.99 L2192.45 456.8 L2194.45 456.62 L2196.44 456.43 L2198.43 456.24 L2200.42 456.06 L2202.41 455.87 L2204.4 455.68 L2206.4 455.49 L2208.39 455.3 L2210.38 455.12 L2212.37 454.93 L2214.36 454.74 L2216.35 454.55 L2218.35 454.36 L2220.34 454.17 L2222.33 453.99 L2224.32 453.8 L2226.31 453.61 L2228.3 453.43 L2230.3 453.24 L2232.29 453.06 L2234.28 452.88 L2236.27 452.69 L2238.26 452.51 L2240.26 452.33 L2242.25 452.15 L2244.24 451.97 L2246.23 451.79 L2248.23 451.61 L2250.22 451.44 L2252.21 451.26 L2254.21 451.09 L2256.2 450.91 L2258.19 450.74 L2260.18 450.57 L2262.18 450.4 L2264.17 450.23 L2266.16 450.07 L2268.16 449.9 L2270.15 449.74 L2272.15 449.57 L2274.14 449.41 L2276.13 449.25 L2278.13 449.09 L2280.12 448.93 L2282.12 448.76 L2284.11 448.6 L2286.1 448.45 L2288.1 448.29 L2290.09 448.13 L2292.09 447.97 L2294.08 447.81 L2296.07 447.66 L2298.07 447.5 L2300.06 447.35 L2302.06 447.2 L2304.05 447.04 L2306.05 446.89 L2308.04 446.74 L2310.04 446.6 L2312.03 446.45 L2314.03 446.31 L2316.02 446.16 L2318.02 446.02 L2320.02 445.89 L2322.01 445.75 L2324.01 445.61 L2326 445.48 L2328 445.35 L2330 445.22 L2331.99 445.1 L2333.99 444.97 L2335.99 444.85 L2337.98 444.73 L2339.98 444.61 L2341.98 444.5 L2343.97 444.38 L2345.97 444.27 L2347.97 444.15 L2349.97 444.04 L2351.96 443.93 L2353.96 443.81 L2355.96 443.7 L2357.96 443.59 L2359.95 443.48 L2361.95 443.38 L2363.95 443.27 L2365.95 443.16 L2367.94 443.06 L2369.94 442.95 L2371.94 442.85 L2373.94 442.75 L2375.93 442.65 L2377.93 442.54 L2379.93 442.45 L2381.93 442.35 L2383.93 442.25 L2385.92 442.15 L2387.92 442.06 L2389.92 441.97 L2391.92 441.87 L2393.92 441.78 L2395.92 441.69 L2397.92 441.6 L2399.91 441.52 L2401.91 441.43 L2403.91 441.35 L2405.91 441.26 L2407.91 441.18 L2409.91 441.1 L2411.91 441.02 L2413.91 440.95 L2415.9 440.87 L2417.9 440.8 L2419.9 440.72 L2421.9 440.65 L2423.9 440.58 L2425.9 440.51 L2427.9 440.44" stroke="#1f4a87" stroke-width="3.8" fill="none" stroke-linejoin="round" stroke-dasharray="12.8 8.2 12.8 8.2 16 8.2"/>
<path d="M1690.3 1147.62 L1690.79 1145.68 L1691.28 1143.74 L1691.77 1141.8 L1692.26 1139.86 L1692.76 1137.92 L1693.26 1135.98 L1693.76 1134.04 L1694.27 1132.11 L1694.78 1130.17 L1695.29 1128.23 L1695.81 1126.3 L1696.33 1124.37 L1696.85 1122.44 L1697.38 1120.51 L1697.91 1118.58 L1698.45 1116.65 L1698.99 1114.72 L1699.53 1112.79 L1700.08 1110.87 L1700.63 1108.94 L1701.19 1107.02 L1701.75 1105.1 L1702.32 1103.18 L1702.9 1101.27 L1703.48 1099.35 L1704.08 1097.44 L1704.68 1095.53 L1705.3 1093.63 L1705.93 1091.73 L1706.56 1089.83 L1707.21 1087.94 L1707.87 1086.05 L1708.54 1084.16 L1709.21 1082.28 L1709.9 1080.4 L1710.59 1078.52 L1711.29 1076.64 L1711.99 1074.77 L1712.71 1072.9 L1713.43 1071.03 L1714.17 1069.17 L1714.92 1067.32 L1715.68 1065.47 L1716.47 1063.63 L1717.27 1061.8 L1718.11 1059.98 L1718.96 1058.17 L1719.84 1056.38 L1720.75 1054.59 L1721.67 1052.82 L1722.62 1051.06 L1723.59 1049.31 L1724.58 1047.57 L1725.58 1045.84 L1726.59 1044.11 L1727.63 1042.4 L1728.67 1040.69 L1729.73 1038.99 L1730.8 1037.3 L1731.88 1035.62 L1732.99 1033.95 L1734.11 1032.29 L1735.25 1030.65 L1736.41 1029.02 L1737.59 1027.41 L1738.8 1025.81 L1740.03 1024.24 L1741.28 1022.68 L1742.54 1021.13 L1743.83 1019.59 L1745.12 1018.07 L1746.42 1016.54 L1747.72 1015.02 L1749.02 1013.5 L1750.32 1011.98 L1751.61 1010.45 L1752.89 1008.91 L1754.17 1007.37 L1755.43 1005.82 L1756.69 1004.26 L1757.93 1002.69 L1759.16 1001.11 L1760.38 999.53 L1761.59 997.94 L1762.81 996.34 L1764.02 994.76 L1765.25 993.18 L1766.49 991.61 L1767.75 990.06 L1769.04 988.53 L1770.35 987.02 L1771.69 985.53 L1773.05 984.07 L1774.44 982.63 L1775.85 981.22 L1777.3 979.84 L1778.77 978.49 L1780.27 977.18 L1781.8 975.89 L1783.36 974.65 L1784.95 973.43 L1786.56 972.25 L1788.19 971.09 L1789.83 969.96 L1791.5 968.84 L1793.17 967.74 L1794.85 966.66 L1796.54 965.58 L1798.23 964.51 L1799.92 963.44 L1801.6 962.36 L1803.28 961.27 L1804.93 960.16 L1806.57 959.01 L1808.18 957.83 L1809.77 956.63 L1811.34 955.39 L1812.9 954.13 L1814.45 952.87 L1816 951.62 L1817.57 950.39 L1819.16 949.19 L1820.79 948.03 L1822.45 946.93 L1824.14 945.88 L1825.86 944.87 L1827.61 943.92 L1829.39 943 L1831.18 942.11 L1832.98 941.24 L1834.79 940.39 L1836.6 939.55 L1838.42 938.71 L1840.24 937.87 L1842.06 937.04 L1843.88 936.2 L1845.7 935.37 L1847.52 934.54 L1849.34 933.72 L1851.17 932.9 L1853 932.08 L1854.82 931.26 L1856.65 930.45 L1858.48 929.64 L1860.31 928.83 L1862.15 928.03 L1863.98 927.23 L1865.82 926.44 L1867.66 925.65 L1869.51 924.88 L1871.35 924.11 L1873.2 923.34 L1875.06 922.59 L1876.91 921.84 L1878.77 921.09 L1880.63 920.35 L1882.49 919.61 L1884.35 918.87 L1886.21 918.13 L1888.07 917.39 L1889.93 916.65 L1891.79 915.92 L1893.66 915.19 L1895.52 914.47 L1897.39 913.76 L1899.27 913.05 L1901.15 912.36 L1903.03 911.68 L1904.91 911.01 L1906.8 910.35 L1908.7 909.7 L1910.59 909.06 L1912.49 908.44 L1914.4 907.82 L1916.3 907.21 L1918.21 906.61 L1920.12 906.01 L1922.04 905.42 L1923.95 904.84 L1925.87 904.26 L1927.79 903.69 L1929.71 903.12 L1931.63 902.56 L1933.55 902 L1935.47 901.44 L1937.39 900.89 L1939.32 900.34 L1941.25 899.8 L1943.17 899.26 L1945.1 898.73 L1947.04 898.21 L1948.97 897.69 L1950.91 897.19 L1952.85 896.69 L1954.79 896.21 L1956.73 895.73 L1958.68 895.26 L1960.63 894.81 L1962.58 894.36 L1964.53 893.91 L1966.48 893.47 L1968.44 893.04 L1970.39 892.61 L1972.35 892.19 L1974.31 891.77 L1976.26 891.35 L1978.22 890.94 L1980.18 890.53 L1982.14 890.12 L1984.1 889.71 L1986.06 889.3 L1988.02 888.9 L1989.98 888.49 L1991.94 888.09 L1993.9 887.68 L1995.86 887.28 L1997.82 886.88 L1999.78 886.49 L2001.75 886.09 L2003.71 885.7 L2005.67 885.31 L2007.64 884.92 L2009.6 884.54 L2011.57 884.15 L2013.53 883.78 L2015.5 883.4 L2017.46 883.03 L2019.43 882.66 L2021.4 882.3 L2023.37 881.94 L2025.34 881.58 L2027.31 881.22 L2029.28 880.87 L2031.25 880.52 L2033.22 880.17 L2035.19 879.83 L2037.16 879.49 L2039.14 879.15 L2041.11 878.81 L2043.09 878.48 L2045.06 878.15 L2047.03 877.83 L2049.01 877.51 L2050.99 877.19 L2052.96 876.87 L2054.94 876.56 L2056.92 876.26 L2058.9 875.95 L2060.88 875.66 L2062.86 875.36 L2064.84 875.07 L2066.82 874.78 L2068.8 874.49 L2070.78 874.21 L2072.76 873.92 L2074.74 873.64 L2076.72 873.36 L2078.71 873.08 L2080.69 872.8 L2082.67 872.52 L2084.65 872.23 L2086.63 871.95 L2088.61 871.67 L2090.6 871.38 L2092.58 871.09 L2094.56 870.8 L2096.54 870.51 L2098.52 870.22 L2100.5 869.93 L2102.48 869.63 L2104.46 869.35 L2106.44 869.06 L2108.42 868.77 L2110.4 868.49 L2112.39 868.22 L2114.37 867.94 L2116.35 867.68 L2118.34 867.42 L2120.32 867.16 L2122.31 866.91 L2124.29 866.66 L2126.28 866.42 L2128.27 866.19 L2130.26 865.96 L2132.25 865.73 L2134.23 865.5 L2136.22 865.28 L2138.21 865.06 L2140.2 864.84 L2142.19 864.62 L2144.18 864.4 L2146.17 864.18 L2148.16 863.97 L2150.15 863.75 L2152.14 863.53 L2154.13 863.31 L2156.12 863.1 L2158.11 862.88 L2160.1 862.66 L2162.09 862.44 L2164.08 862.23 L2166.07 862.01 L2168.06 861.79 L2170.05 861.58 L2172.04 861.37 L2174.03 861.15 L2176.02 860.94 L2178.01 860.73 L2180 860.53 L2181.99 860.32 L2183.98 860.11 L2185.98 859.91 L2187.97 859.71 L2189.96 859.5 L2191.95 859.3 L2193.94 859.1 L2195.93 858.91 L2197.93 858.71 L2199.92 858.51 L2201.91 858.32 L2203.9 858.13 L2205.9 857.94 L2207.89 857.75 L2209.88 857.56 L2211.87 857.37 L2213.87 857.19 L2215.86 857.01 L2217.85 856.83 L2219.85 856.66 L2221.84 856.49 L2223.84 856.32 L2225.83 856.15 L2227.83 855.99 L2229.82 855.83 L2231.82 855.67 L2233.81 855.51 L2235.81 855.35 L2237.8 855.19 L2239.8 855.04 L2241.79 854.88 L2243.79 854.72 L2245.79 854.56 L2247.78 854.4 L2249.78 854.24 L2251.77 854.07 L2253.76 853.9 L2255.76 853.73 L2257.75 853.55 L2259.75 853.37 L2261.74 853.19 L2263.73 853.01 L2265.73 852.83 L2267.72 852.64 L2269.71 852.46 L2271.71 852.28 L2273.7 852.1 L2275.69 851.92 L2277.69 851.75 L2279.68 851.58 L2281.68 851.42 L2283.67 851.26 L2285.67 851.11 L2287.67 850.96 L2289.66 850.82 L2291.66 850.68 L2293.66 850.55 L2295.65 850.42 L2297.65 850.29 L2299.65 850.17 L2301.65 850.04 L2303.64 849.92 L2305.64 849.8 L2307.64 849.67 L2309.64 849.55 L2311.64 849.42 L2313.63 849.29 L2315.63 849.16 L2317.63 849.03 L2319.62 848.89 L2321.62 848.75 L2323.62 848.6 L2325.61 848.46 L2327.61 848.31 L2329.61 848.16 L2331.6 848 L2333.6 847.85 L2335.59 847.7 L2337.59 847.54 L2339.58 847.39 L2341.58 847.24 L2343.58 847.09 L2345.57 846.94 L2347.57 846.8 L2349.57 846.66 L2351.56 846.52 L2353.56 846.38 L2355.56 846.25 L2357.55 846.12 L2359.55 845.99 L2361.55 845.86 L2363.55 845.73 L2365.55 845.61 L2367.54 845.49 L2369.54 845.37 L2371.54 845.25 L2373.54 845.13 L2375.54 845.01 L2377.53 844.89 L2379.53 844.78 L2381.53 844.66 L2383.53 844.55 L2385.53 844.44 L2387.53 844.33 L2389.52 844.21 L2391.52 844.11 L2393.52 844 L2395.52 843.89 L2397.52 843.78 L2399.52 843.68 L2401.52 843.57 L2403.52 843.47 L2405.52 843.36 L2407.51 843.26 L2409.51 843.15 L2411.51 843.04 L2413.51 842.94 L2415.51 842.83 L2417.51 842.73 L2419.51 842.62 L2421.51 842.51 L2423.5 842.4 L2425.5 842.29 L2427.5 842.18 L2429.5 842.07 L2430.5 842.02" stroke="#7dbccb" stroke-width="3.8" fill="none" stroke-linejoin="round" stroke-dasharray="7.8 7.9 7.8 7.9 7.8 7.9 11 7.9"/>
<text id="l1" class="r" x="254.69" y="75.7" font-size="32.5" textLength="503.42" lengthAdjust="spacingAndGlyphs">2013–19 data (absolute decoupling)</text>
<text id="l2" class="r" x="254.69" y="119.7" font-size="32.5" textLength="739.11" lengthAdjust="spacingAndGlyphs">2020–22 data and estimates (recession and rebound)</text>
<text id="l3" class="r" x="254.89" y="163.7" font-size="32.5" textLength="883.52" lengthAdjust="spacingAndGlyphs">Business-as-usual pathway (continues 2013–19 decoupling and</text>
<text id="l4" class="r" x="255.17" y="207.7" font-size="32.5" textLength="155.57" lengthAdjust="spacingAndGlyphs">GDP trend)</text>
<text id="l5" class="r" x="253.99" y="251.7" font-size="32.5" textLength="843.61" lengthAdjust="spacingAndGlyphs">1·7°C fair-share pathway (meets fair-share carbon budget for</text>
<text id="l6" class="r" x="254.99" y="295.7" font-size="32.5" textLength="293.12" lengthAdjust="spacingAndGlyphs">50% chance of 1·7°C)</text>
<text id="l7" class="r" x="254" y="339.7" font-size="32.5" textLength="844.51" lengthAdjust="spacingAndGlyphs">1·5°C fair-share pathway (meets fair-share carbon budget for</text>
<text id="l8" class="r" x="254.99" y="383.7" font-size="32.5" textLength="294.43" lengthAdjust="spacingAndGlyphs">50% chance of 1·5°C)</text>
<text id="r1" class="r" x="1498" y="75.7" font-size="32.5" textLength="188.8" lengthAdjust="spacingAndGlyphs">2013–19 data</text>
<text id="r2" class="r" x="1497.99" y="119.7" font-size="32.5" textLength="395.22" lengthAdjust="spacingAndGlyphs">2020–22 data and estimates</text>
<text id="r3" class="r" x="1497.99" y="163.7" font-size="32.5" textLength="237.93" lengthAdjust="spacingAndGlyphs">2013–19 average</text>
<text id="r4" class="r" x="1497.78" y="207.7" font-size="32.5" textLength="391.03" lengthAdjust="spacingAndGlyphs">Required for 1·7°C fair-share</text>
<text id="r5" class="r" x="1497.78" y="251.7" font-size="32.5" textLength="391.83" lengthAdjust="spacingAndGlyphs">Required for 1·5°C fair-share</text>
<text id="ly0" class="r" x="147.96" y="1223.6" font-size="32.5" textLength="19.54" lengthAdjust="spacingAndGlyphs">0</text>
<text id="ly20" class="r" x="130.55" y="1113.38" font-size="32.5" textLength="36.9" lengthAdjust="spacingAndGlyphs">20</text>
<text id="ly40" class="r" x="131.64" y="1003.16" font-size="32.5" textLength="35.78" lengthAdjust="spacingAndGlyphs">40</text>
<text id="ly60" class="r" x="130.55" y="892.94" font-size="32.5" textLength="36.9" lengthAdjust="spacingAndGlyphs">60</text>
<text id="ly80" class="r" x="130.64" y="782.72" font-size="32.5" textLength="36.8" lengthAdjust="spacingAndGlyphs">80</text>
<text id="ly100" class="r" x="112.2" y="672.5" font-size="32.5" textLength="55.24" lengthAdjust="spacingAndGlyphs">100</text>
<text id="ly120" class="r" x="112.2" y="562.28" font-size="32.5" textLength="55.24" lengthAdjust="spacingAndGlyphs">120</text>
<text id="ly140" class="r" x="112.2" y="452.06" font-size="32.5" textLength="55.24" lengthAdjust="spacingAndGlyphs">140</text>
<text id="ry0" class="r" x="1388.64" y="1223.5" font-size="32.5" textLength="18.85" lengthAdjust="spacingAndGlyphs">0</text>
<text id="ry5" class="r" x="1388.64" y="1134.3" font-size="32.5" textLength="18.85" lengthAdjust="spacingAndGlyphs">5</text>
<text id="ry10" class="r" x="1369.96" y="1045.1" font-size="32.5" textLength="37.52" lengthAdjust="spacingAndGlyphs">10</text>
<text id="ry15" class="r" x="1369.89" y="955.9" font-size="32.5" textLength="38.62" lengthAdjust="spacingAndGlyphs">15</text>
<text id="ry20" class="r" x="1371.1" y="866.7" font-size="32.5" textLength="36.35" lengthAdjust="spacingAndGlyphs">20</text>
<text id="ry25" class="r" x="1371.1" y="777.5" font-size="32.5" textLength="36.35" lengthAdjust="spacingAndGlyphs">25</text>
<text id="ry30" class="r" x="1371.1" y="688.3" font-size="32.5" textLength="36.35" lengthAdjust="spacingAndGlyphs">30</text>
<text id="ry35" class="r" x="1371.1" y="599.1" font-size="32.5" textLength="36.35" lengthAdjust="spacingAndGlyphs">35</text>
<text id="ry40" class="r" x="1372.18" y="509.9" font-size="32.5" textLength="35.24" lengthAdjust="spacingAndGlyphs">40</text>
<text id="ry45" class="r" x="1372.18" y="420.7" font-size="32.5" textLength="35.24" lengthAdjust="spacingAndGlyphs">45</text>
<text id="lx2013" class="r" x="155.67" y="1259.5" font-size="32.5" textLength="73.61" lengthAdjust="spacingAndGlyphs">2013</text>
<text id="rx2013" class="r" x="1397.3" y="1259.5" font-size="32.5" textLength="72.58" lengthAdjust="spacingAndGlyphs">2013</text>
<text id="lx2020" class="r" x="349.72" y="1259.5" font-size="32.5" textLength="72.58" lengthAdjust="spacingAndGlyphs">2020</text>
<text id="rx2020" class="r" x="1585.94" y="1259.5" font-size="32.5" textLength="72.64" lengthAdjust="spacingAndGlyphs">2020</text>
<text id="lx2030" class="r" x="625.34" y="1259.5" font-size="32.5" textLength="72.58" lengthAdjust="spacingAndGlyphs">2030</text>
<text id="rx2030" class="r" x="1856.06" y="1259.5" font-size="32.5" textLength="72.58" lengthAdjust="spacingAndGlyphs">2030</text>
<text id="lx2040" class="r" x="901.89" y="1259.5" font-size="32.5" textLength="72.64" lengthAdjust="spacingAndGlyphs">2040</text>
<text id="rx2040" class="r" x="2125.17" y="1259.5" font-size="32.5" textLength="72.58" lengthAdjust="spacingAndGlyphs">2040</text>
<text id="lx2050" class="r" x="1177.49" y="1259.5" font-size="32.5" textLength="73.61" lengthAdjust="spacingAndGlyphs">2050</text>
<text id="rx2050" class="r" x="2395.27" y="1259.5" font-size="32.5" textLength="72.58" lengthAdjust="spacingAndGlyphs">2050</text>
<text id="lyear" class="r" x="672.37" y="1313.9" font-size="32.5" textLength="61.53" lengthAdjust="spacingAndGlyphs">Year</text>
<text id="ryear" class="r" x="1901.24" y="1313.9" font-size="32.5" textLength="61.51" lengthAdjust="spacingAndGlyphs">Year</text>
<text id="cap1a" x="21.29" y="1404.7" font-size="35.5" textLength="91.52" lengthAdjust="spacingAndGlyphs" font-weight="bold" font-style="italic">Figure</text>
<text id="cap1b" class="r" x="119.3" y="1404.7" font-size="35.5" textLength="21.09" lengthAdjust="spacingAndGlyphs">5</text>
<text id="cap1c" x="139" y="1404.7" font-size="35.5" textLength="2197.01" lengthAdjust="spacingAndGlyphs" font-weight="bold">: Emission reductions (left) and decoupling rates (right) achieved in high-income countries through absolute decoupling are insufficient for</text>
<text id="cap2" x="21" y="1454.7" font-size="35.5" textLength="1213.3" lengthAdjust="spacingAndGlyphs" font-weight="bold">complying with their 1·5°C fair-shares or even just with their 1·7°C fair-shares</text>
<text id="lyt" class="r" transform="translate(79.3 1045) rotate(-90)" x="0" y="0" font-size="32.5" textLength="454.02" lengthAdjust="spacingAndGlyphs">CO<tspan font-size="21" dy="7">2</tspan><tspan dy="-7"> emissions (% of 2022 levels)</tspan></text>
<text id="ryt" class="r" transform="translate(1336.9 1008) rotate(-90)" x="0" y="0" font-size="32.5" textLength="394.34" lengthAdjust="spacingAndGlyphs">Decoupling rate (% per year)</text>
</svg></body></html>
